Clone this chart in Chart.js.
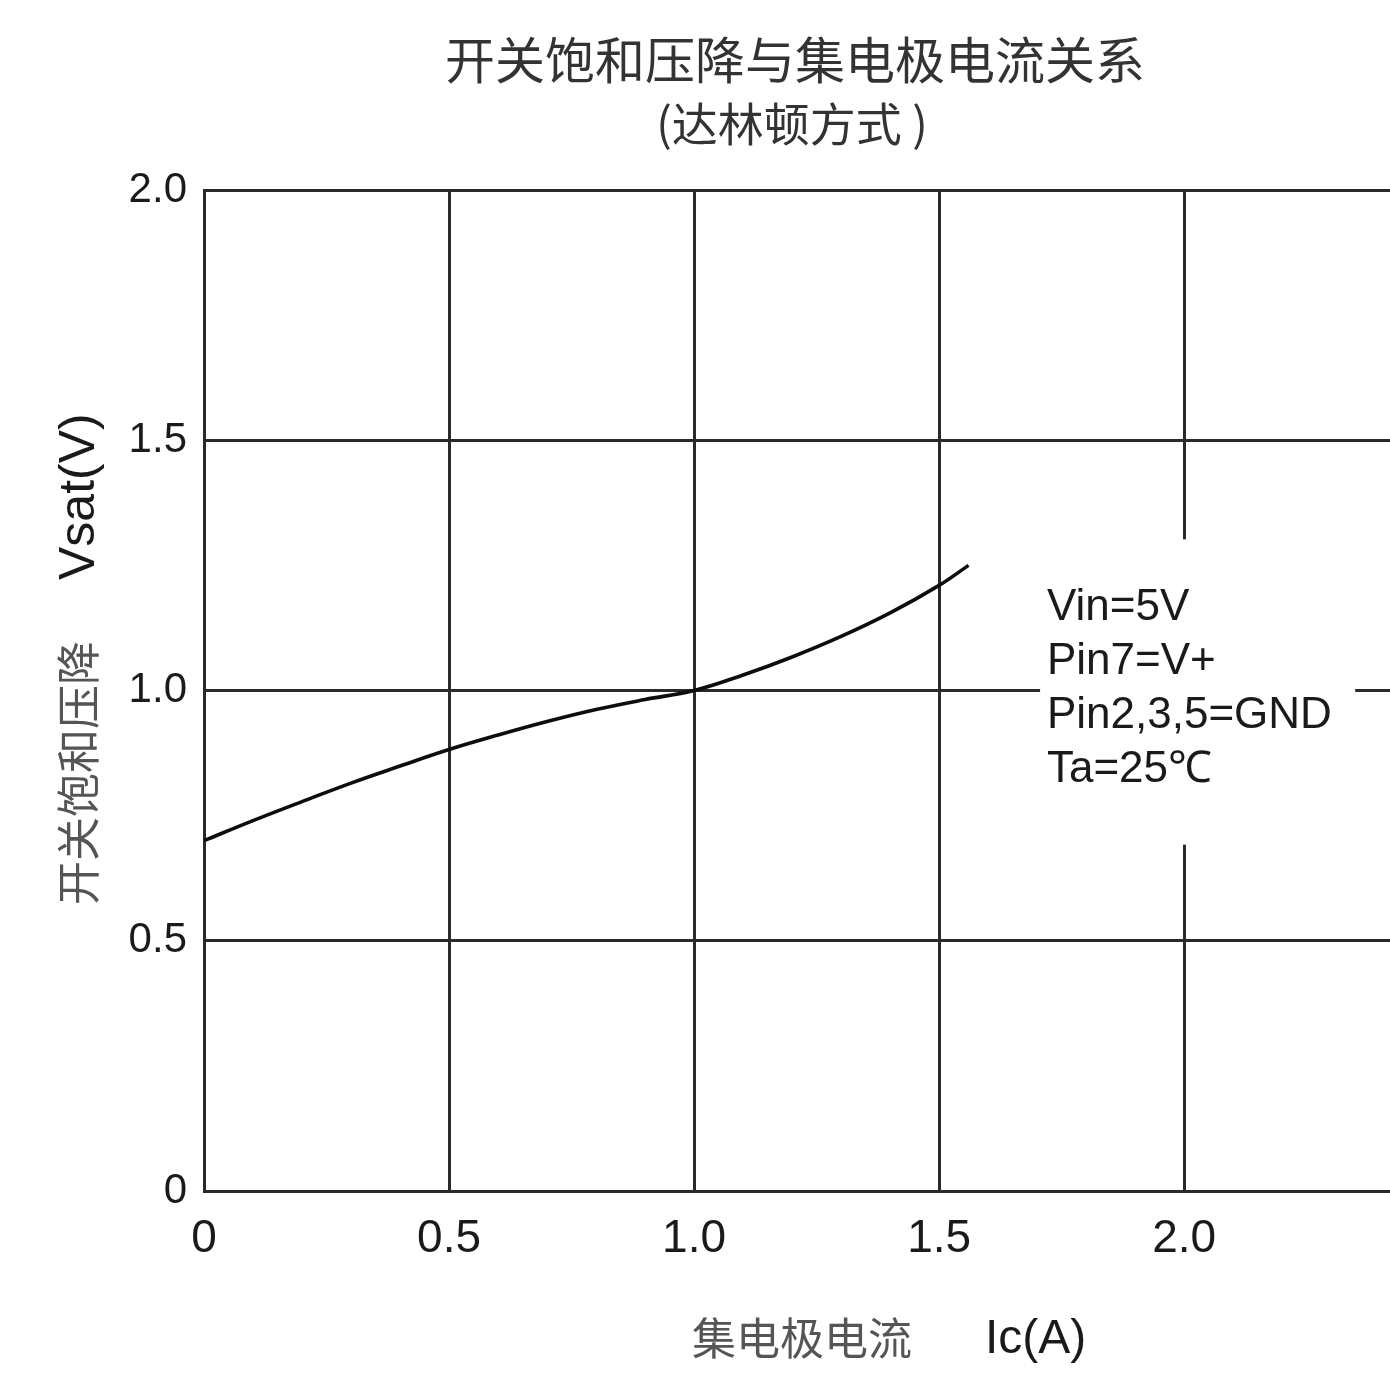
<!DOCTYPE html>
<html>
<head>
<meta charset="utf-8">
<script src="https://cdn.jsdelivr.net/npm/chart.js@4.4.1/dist/chart.umd.min.js"></script>
<style>
  html, body { margin: 0; padding: 0; background: #ffffff; }
  #wrap { width: 1390px; height: 1394px; }
</style>
</head>
<body>
<div id="wrap"><canvas id="c" width="1390" height="1394"></canvas></div>
<script>
// ---- data ----
const currentA = [0, 0.1, 0.2, 0.3, 0.4, 0.5, 0.6, 0.7, 0.8, 0.9, 1.0, 1.1, 1.2, 1.3, 1.4, 1.5, 1.56];
const vsatV    = [0.700, 0.740, 0.778, 0.815, 0.849, 0.882, 0.911, 0.938, 0.962, 0.982, 1.000, 1.031, 1.067, 1.108, 1.155, 1.210, 1.250];
const xTickValues = [0, 0.5, 1.0, 1.5, 2.0];
const xTickLabels = ["0", "0.5", "1.0", "1.5", "2.0"];
const yTickValues = [0, 0.5, 1.0, 1.5, 2.0];
const yTickLabels = ["0", "0.5", "1.0", "1.5", "2.0"];
const titleLines = ["开关饱和压降与集电极电流关系", "(达林顿方式 )"];
const yTitleCJK = "开关饱和压降";
const yTitleLatin = "Vsat(V)";
const xTitleCJK = "集电极电流";
const xTitleLatin = "Ic(A)";
const noteLines = ["Vin=5V", "Pin7=V+", "Pin2,3,5=GND", "Ta=25℃"];
const noteBox = { x0: 1.706, x1: 2.349, y0: 1.302, y1: 0.692 };
const noteTextX = 1.72;
const noteTextY = [1.166, 1.058, 0.950, 0.842];

const CJK = '"Noto Sans CJK SC", "Noto Sans CJK JP", sans-serif';
const LAT = '"Liberation Sans", Arial, sans-serif';

const textPlugin = {
  id: 'textPlugin',
  beforeDatasetsDraw(chart) {
    const ctx = chart.ctx, xs = chart.scales.x, ys = chart.scales.y;
    ctx.save();
    ctx.fillStyle = '#ffffff';
    const bx0 = xs.getPixelForValue(noteBox.x0), bx1 = xs.getPixelForValue(noteBox.x1);
    const by0 = ys.getPixelForValue(noteBox.y0), by1 = ys.getPixelForValue(noteBox.y1);
    ctx.fillRect(bx0, by0, bx1 - bx0, by1 - by0);
    ctx.fillStyle = '#1a1a1a';
    ctx.font = '44px ' + LAT;
    ctx.textAlign = 'left';
    ctx.textBaseline = 'middle';
    noteLines.forEach((t, i) => {
      ctx.fillText(t, xs.getPixelForValue(noteTextX), ys.getPixelForValue(noteTextY[i]));
    });
    ctx.restore();
  },
  afterDraw(chart) {
    const ctx = chart.ctx;
    ctx.save();
    ctx.fillStyle = '#333333';
    ctx.textAlign = 'center';
    ctx.textBaseline = 'middle';
    ctx.font = '50px ' + CJK;
    ctx.fillText(titleLines[0], 795, 60);
    ctx.font = '46px ' + CJK;
    ctx.fillText(titleLines[1], 792, 124);

    ctx.save();
    ctx.translate(78, 657);
    ctx.rotate(-Math.PI / 2);
    ctx.textAlign = 'left';
    ctx.textBaseline = 'middle';
    ctx.fillStyle = '#555555';
    ctx.font = '44px ' + CJK;
    ctx.fillText(yTitleCJK, -248, 0);
    ctx.fillStyle = '#1a1a1a';
    ctx.font = '50px ' + LAT;
    ctx.fillText(yTitleLatin, 77, 2);
    ctx.restore();

    ctx.textAlign = 'left';
    ctx.textBaseline = 'middle';
    ctx.fillStyle = '#555555';
    ctx.font = '44px ' + CJK;
    ctx.fillText(xTitleCJK, 692, 1338);
    ctx.fillStyle = '#1a1a1a';
    ctx.font = '48px ' + LAT;
    ctx.fillText(xTitleLatin, 985, 1340);
    ctx.restore();
  }
};

new Chart(document.getElementById('c'), {
  type: 'line',
  data: {
    datasets: [{
      data: currentA.map((x, i) => ({ x: x, y: vsatV[i] })),
      borderColor: '#0d0d0d',
      borderWidth: 3.6,
      pointRadius: 0,
      fill: false,
      tension: 0.4
    }]
  },
  options: {
    responsive: false,
    animation: false,
    layout: { padding: { top: 190, right: 0, bottom: 0, left: 0 } },
    plugins: { legend: { display: false }, tooltip: { enabled: false } },
    scales: {
      x: {
        type: 'linear',
        min: 0,
        max: 2.42,
        afterBuildTicks: s => { s.ticks = xTickValues.map(v => ({ value: v })); },
        afterFit: s => { s.height = 203; },
        ticks: {
          callback: (v, i) => xTickLabels[i],
          font: { family: LAT, size: 46 },
          color: '#1a1a1a',
          padding: 21,
          maxRotation: 0,
          autoSkip: false
        },
        grid: { color: '#2a2a2a', lineWidth: 3, drawTicks: false },
        border: { display: true, color: '#2a2a2a', width: 3 }
      },
      y: {
        type: 'linear',
        min: 0,
        max: 2.0,
        afterBuildTicks: s => { s.ticks = yTickValues.map(v => ({ value: v })); },
        afterFit: s => { s.width = 204; },
        ticks: {
          callback: (v, i) => yTickLabels[i],
          font: { family: LAT, size: 42 },
          color: '#1a1a1a',
          padding: 17,
          autoSkip: false
        },
        grid: { color: '#2a2a2a', lineWidth: 3, drawTicks: false },
        border: { display: true, color: '#2a2a2a', width: 3 }
      }
    }
  },
  plugins: [textPlugin]
});
</script>
</body>
</html>
